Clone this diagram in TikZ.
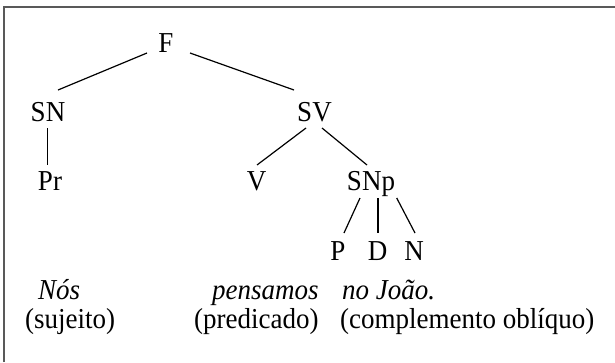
\documentclass[tikz,border=0pt]{standalone}
\usepackage{fontspec}
\setmainfont{Liberation Serif}
\newcommand{\vstr}[1]{\scalebox{1}[1.07]{#1}}
\begin{document}
\begin{tikzpicture}[x=1pt,y=-1pt,
  lbl/.style={inner sep=0pt,anchor=base,font=\fontsize{27}{32}\selectfont},
  txt/.style={inner sep=0pt,anchor=base west,font=\fontsize{27}{32}\selectfont},
  edge/.style={draw=black,line width=1.2pt},
  frame/.style={draw=black!65,line width=1.8pt}]
\useasboundingbox (0,0) rectangle (615,362);
\draw[frame] (4,362) -- (4,7) -- (615,7);
% tree nodes
\node[lbl] (F) at (166,52) {\vstr{F}};
\node[lbl] (SN) at (48,121.5) {\vstr{SN}};
\node[lbl] (SV) at (314.5,121.5) {\vstr{SV}};
\node[lbl] (Pr) at (50,190.5) {\vstr{Pr}};
\node[lbl] (V) at (256.7,190.5) {\vstr{V}};
\node[lbl] (SNp) at (371,190.5) {\vstr{SNp}};
\node[lbl] (P) at (338,260) {\vstr{P}};
\node[lbl] (D) at (377.5,260) {\vstr{D}};
\node[lbl] (N) at (414,260) {\vstr{N}};
% edges
\draw[edge] ([shift={(-19,1)}]F.base) -- ([shift={(10,-31.5)}]SN.base);
\draw[edge] ([shift={(24,1)}]F.base) -- ([shift={(-20.5,-31.5)}]SV.base);
\draw[edge] ([shift={(-0.5,6.5)}]SN.base) -- ([shift={(-2.5,-25.5)}]Pr.base);
\draw[edge] ([shift={(-8.5,6.5)}]SV.base) -- ([shift={(0.3,-25.5)}]V.base);
\draw[edge] ([shift={(7.5,6.5)}]SV.base) -- ([shift={(-4,-25.5)}]SNp.base);
\draw[edge] ([shift={(-11,7.5)}]SNp.base) -- ([shift={(6,-27)}]P.base);
\draw[edge] ([shift={(7,7.5)}]SNp.base) -- ([shift={(0.5,-27)}]D.base);
\draw[edge] ([shift={(25.7,7.5)}]SNp.base) -- ([shift={(1,-27)}]N.base);
% sentence
\node[txt] (nos) at (38,299) {\vstr{\itshape Nós}};
\node[txt] (suj) at (25,328) {\vstr{(sujeito)}};
\node[txt] (pens) at (212,299) {\vstr{\itshape pensamos}};
\node[txt] (pred) at (194,328) {\vstr{(predicado)}};
\node[txt] (joao) at (342,299) {\vstr{\itshape no João.}};
\node[txt] (comp) at (340,328) {\vstr{(complemento oblíquo)}};
\end{tikzpicture}
\end{document}
